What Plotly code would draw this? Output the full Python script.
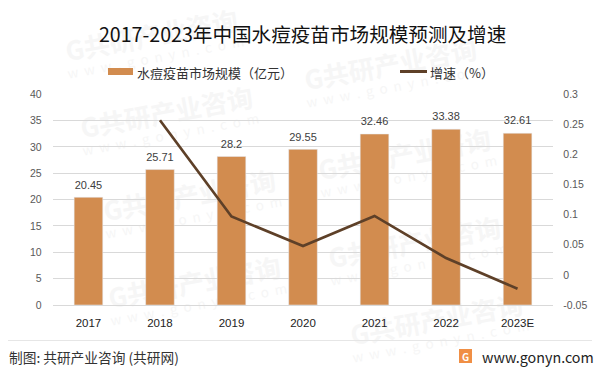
import plotly.graph_objects as go

years = ["2017", "2018", "2019", "2020", "2021", "2022", "2023E"]
market_size = [20.45, 25.71, 28.2, 29.55, 32.46, 33.38, 32.61]
growth = [None, 0.257, 0.097, 0.048, 0.098, 0.028, -0.023]
left_ticks = [0, 5, 10, 15, 20, 25, 30, 35, 40]
right_ticks = [-0.05, 0, 0.05, 0.1, 0.15, 0.2, 0.25, 0.3]
right_labels = ["-0.05", "0", "0.05", "0.1", "0.15", "0.2", "0.25", "0.3"]
watermark_at = [(152, 38), (391, 67), (167, 115), (405, 157), (190, 198), (415, 245), (195, 285), (437, 322)]

W, H = 600, 373
L, R, T, B = 52.7, 553.3, 94.3, 305
CJK = "Noto Sans CJK SC"
BAR = "#D28C4F"
LINE = "#5E4028"

fig = go.Figure()
fig.add_bar(x=years, y=market_size, marker_color=BAR, width=0.4, hoverinfo="skip")
fig.add_scatter(x=years, y=growth, yaxis="y2", mode="lines", line=dict(color=LINE, width=2.7), connectgaps=False)
fig.add_scatter(x=years, y=market_size, mode="markers+text", text=[str(v) for v in market_size],
                textposition="top center", cliponaxis=False,
                marker=dict(size=8, color="rgba(0,0,0,0)"),
                textfont=dict(size=11, color="#404040", family="Liberation Sans"))

ann = []


def page_text(text, x, y, size, color):
    ann.append(dict(text=text, x=x / W, y=1 - y / H, xref="paper", yref="paper", showarrow=False, xanchor="left",
                    yanchor="middle", font=dict(size=size, color=color, family=CJK)))


page_text("2017-2023年中国水痘疫苗市场规模预测及增速", 97, 33, 19.6, "#111111")
page_text("水痘疫苗市场规模（亿元）", 135, 72, 13, "#333333")
page_text("增速（%）", 428, 72, 13, "#333333")
page_text("制图: 共研产业咨询 (共研网)", 6.5, 357, 13.7, "#333333")
page_text("www.gonyn.com", 480, 356, 14.3, "#222222")
page_text("<b>G</b>", 460, 356, 10, "white")


def rect(x0, y0, x1, y1, color):
    return dict(type="rect", xref="paper", yref="paper", x0=x0 / W, x1=x1 / W, y0=1 - y1 / H, y1=1 - y0 / H,
                fillcolor=color, line_width=0)


def watermark(cx, cy, text, size):
    s = rect(cx - 120, cy - 20, cx + 120, cy + 20, "rgba(0,0,0,0)")
    s["layer"] = "below"
    s["label"] = dict(text=text, textangle=-10.5, textposition="middle center",
                      font=dict(size=size, color="#F6F6F6", family=CJK))
    return s


shapes = []
sp = "\u00a0\u00a0"
for cx, cy in watermark_at:
    shapes.append(watermark(cx, cy, "<b>G共研产业咨询</b>", 26))
    shapes.append(watermark(cx + 4, cy + 21, sp.join("www.gonyn.com"), 13.5))
shapes += [
    rect(108, 68, 133, 75, BAR),
    rect(400, 70, 427, 73, LINE),
    rect(8, 340, 592, 341, "#E6E6E6"),
    rect(459, 349, 472, 363, "#F08F45"),
]

fig.update_layout(
    width=W, height=H, margin=dict(l=0, r=0, t=0, b=0), paper_bgcolor="white", plot_bgcolor="rgba(0,0,0,0)",
    showlegend=False, annotations=ann, shapes=shapes,
    xaxis=dict(domain=[L / W, R / W], tickfont=dict(size=11.5, color="#222222", family="Liberation Sans"),
               showline=True, linecolor="#D9D9D9", ticks="", ticklabelstandoff=7, automargin=False),
    yaxis=dict(domain=[1 - B / H, 1 - T / H], range=[0, 40], tickvals=left_ticks, showgrid=True, gridcolor="#D9D9D9",
               gridwidth=1, zeroline=False, tickfont=dict(size=10.5, color="#595959", family="Liberation Sans"),
               ticks="", ticklabelstandoff=10, automargin=False),
    yaxis2=dict(overlaying="y", side="right", anchor="x", range=[-0.05, 0.3], tickvals=right_ticks, ticktext=right_labels,
                showgrid=False, zeroline=False, tickfont=dict(size=10.5, color="#595959", family="Liberation Sans"),
                ticks="", ticklabelstandoff=9, automargin=False),
)
fig.write_html("out.html", config={"displayModeBar": False},
               post_script="document.body.style.margin='0';document.documentElement.style.overflow='hidden';")
